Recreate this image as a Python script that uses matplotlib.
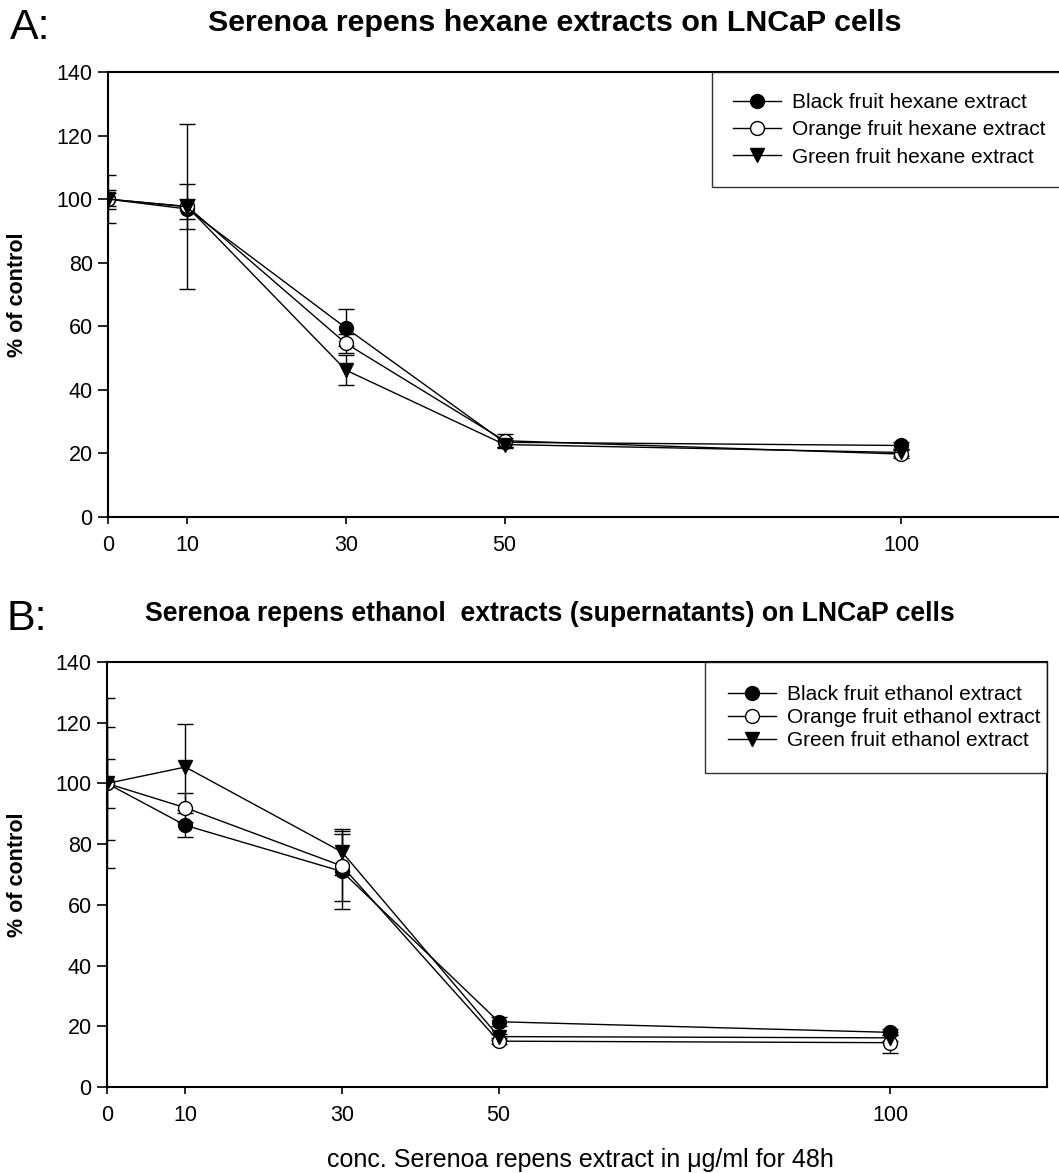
import numpy as np
import matplotlib
matplotlib.use('Agg')
import matplotlib.pyplot as plt

plt.rcParams['font.family'] = ['Liberation Sans', 'DejaVu Sans']

# concentrations (ug/ml)
conc = [0, 10, 30, 50, 100]
xticks = [0, 10, 30, 50, 100]

# A: hexane extracts, % of control and error
hex_black = [100, 96.9, 59.5, 23.5, 22.5]
hex_black_err = [3.0, 3.2, 5.8, 1.5, 1.0]
hex_orange = [100, 97.7, 54.6, 24.0, 19.8]
hex_orange_err = [7.5, 7.0, 3.0, 2.0, 1.2]
hex_green = [100, 97.6, 46.2, 22.8, 20.3]
hex_green_err = [2.0, 26.0, 4.7, 1.2, 1.0]

# B: ethanol extracts
eth_black = [100, 86.2, 71.0, 21.5, 18.0]
eth_black_err = [8.0, 4.0, 12.5, 1.5, 1.0]
eth_orange = [100, 92.0, 72.8, 15.1, 14.6]
eth_orange_err = [18.5, 4.7, 11.6, 1.0, 3.5]
eth_green = [100, 105.4, 77.4, 16.6, 16.2]
eth_green_err = [28.0, 14.2, 7.7, 1.0, 1.0]

hex_labels = ['Black fruit hexane extract', 'Orange fruit hexane extract', 'Green fruit hexane extract']
eth_labels = ['Black fruit ethanol extract', 'Orange fruit ethanol extract', 'Green fruit ethanol extract']

W, H = 1059, 1173
fig = plt.figure(figsize=(W / 100, H / 100), dpi=100)

axA = fig.add_axes([108 / W, 1 - 517 / H, (1066 - 108) / W, (517 - 72) / H])
axB = fig.add_axes([107 / W, 1 - 1087 / H, (1047 - 107) / W, (1087 - 662) / H])


def draw(ax, series, errs, labels, xmax):
    styles = [('o', 'black'), ('o', 'white'), ('v', 'black')]
    for y, e in zip(series, errs):
        ax.errorbar(conc, y, yerr=e, fmt='none', ecolor='black', elinewidth=1.0, capsize=6, capthick=1.0)
    for y, lab, (m, fc) in zip(series, labels, styles):
        ax.plot(conc, y, color='black', lw=1.0, marker=m, mfc=fc, mec='black', mew=1.0, ms=10, label=lab)
    ax.set_xlim(0, xmax)
    ax.set_ylim(0, 140)
    ax.set_xticks(xticks)
    ax.set_yticks(np.arange(0, 141, 20))
    ax.tick_params(axis='y', direction='out', length=7, width=1.2, labelsize=15.5, pad=4)
    ax.tick_params(axis='x', direction='out', length=5, width=1.2, labelsize=15.5, pad=8)
    for s in ax.spines.values():
        s.set_linewidth(1.5)
    ax.set_ylabel('% of control', fontsize=15.5, fontweight='bold')


draw(axA, [hex_black, hex_orange, hex_green], [hex_black_err, hex_orange_err, hex_green_err], hex_labels, 120.8)
axA.spines['right'].set_visible(False)
axA.yaxis.set_label_coords(-0.0836, 0.5)
draw(axB, [eth_black, eth_orange, eth_green], [eth_black_err, eth_orange_err, eth_green_err], eth_labels, 120)
axB.yaxis.set_label_coords(-0.084, 0.5)

legA = axA.legend(loc='upper left', bbox_to_anchor=(712 / W, 1 - 183 / H, (1075 - 712) / W, 111 / H),
                  bbox_transform=fig.transFigure, mode='expand', borderaxespad=0, fontsize=15,
                  frameon=True, fancybox=False, edgecolor='black', handlelength=2.3, handletextpad=0.55,
                  labelspacing=0.4, borderpad=1.0)
legA.get_frame().set_linewidth(1.0)

legB = axB.legend(loc='upper left', bbox_to_anchor=(705 / W, 1 - 776 / H, (1047 - 705) / W, 114 / H),
                  bbox_transform=fig.transFigure, mode='expand', borderaxespad=0, fontsize=15,
                  frameon=True, fancybox=False, edgecolor='black', handlelength=2.3, handletextpad=0.55,
                  labelspacing=0.2, borderpad=1.1)
legB.get_frame().set_linewidth(1.0)

fig.text(10 / W, 1 - 39 / H, 'A:', fontsize=31, va='baseline', ha='left')
fig.text(555 / W, 1 - 23 / H, 'Serenoa repens hexane extracts on LNCaP cells', fontsize=21.9,
         fontweight='bold', ha='center', va='center')
fig.text(6 / W, 1 - 630 / H, 'B:', fontsize=31, va='baseline', ha='left')
fig.text(550 / W, 1 - 614 / H, 'Serenoa repens ethanol  extracts (supernatants) on LNCaP cells', fontsize=19.2,
         fontweight='bold', ha='center', va='center')
fig.text(580 / W, 1 - 1160 / H, 'conc. Serenoa repens extract in \u03bcg/ml for 48h', fontsize=18,
         ha='center', va='center')

fig.savefig('out.png', dpi=100)
